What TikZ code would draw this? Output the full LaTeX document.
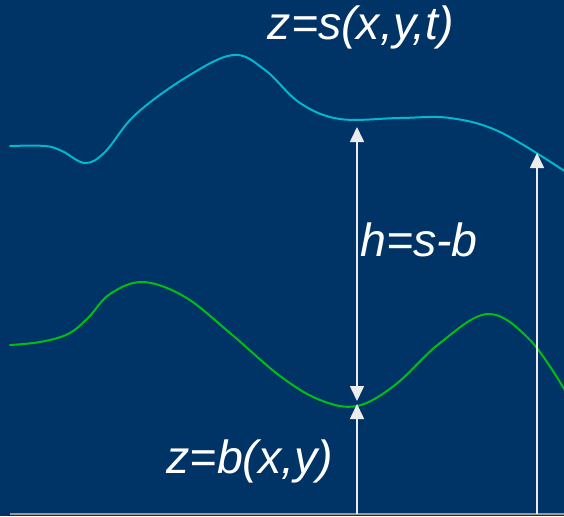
\documentclass[tikz,border=0pt]{standalone}
\usepackage{fontspec}
\setmainfont{Liberation Sans}
\usetikzlibrary{arrows.meta}

\definecolor{navy}{RGB}{0,51,102}
\definecolor{surfcyan}{RGB}{0,185,205}
\definecolor{bedgreen}{RGB}{0,190,20}

\begin{document}
\begin{tikzpicture}[
    x=1pt, y=-1pt,
    lbl/.style={text=white, font=\fontsize{46.5}{52}\selectfont\itshape, inner sep=0pt},
    curve/.style={line width=2pt, line cap=round},
    vline/.style={draw=white!85!gray, line width=1.6pt},
    arr/.style={vline, -{Triangle[length=15pt, width=14pt]}},
    darr/.style={vline, {Triangle[length=15pt, width=14pt]}-{Triangle[length=15pt, width=14pt]}},
]

    %==================== BACKGROUND ====================
    \fill[navy] (0,0) rectangle (564,516);
    \useasboundingbox (0,0) rectangle (564,516);

    %==================== SURFACE z=s ====================
    \draw[curve, surfcyan] plot[smooth, tension=0.6] coordinates {
        (10,146) (45,146) (62,151) (85,163) (105,152) (135,115)
        (185,78) (233,55) (265,70) (300,103) (340,119) (400,118)
        (450,118) (500,132) (566,172)};

    %==================== BED z=b ====================
    \draw[curve, bedgreen] plot[smooth, tension=0.6] coordinates {
        (10,345) (40,342) (68,334) (88,318) (110,294) (143,282) (185,297)
        (230,333) (280,376) (320,400) (357,406) (395,385) (440,343)
        (488,314) (530,340) (566,392)};

    %==================== POINTS ====================
    \coordinate (base1) at (357,514);
    \coordinate (bed1)  at (357,404);
    \coordinate (bedtop) at (357,401);
    \coordinate (surf1) at (357,127);
    \coordinate (base2) at (537,514);
    \coordinate (surf2) at (537,153);
    \coordinate (gl)    at (10,514);
    \coordinate (gr)    at (564,514);

    %==================== GROUND + ARROWS ====================
    \draw[draw=gray!80!white, line width=2pt] (gl) -- (gr);
    \draw[arr] (base1) -- (bed1);
    \draw[darr] (bedtop) -- (surf1);
    \draw[arr] (base2) -- (surf2);

    %==================== LABELS ====================
    \node[lbl] (ssurf) at (361,27) {z=s(x,y,t)};
    \node[lbl] (hgt)   at (419,240) {h=s-b};
    \node[lbl] (sbed)  at (250,461) {z=b(x,y)};

\end{tikzpicture}
\end{document}
